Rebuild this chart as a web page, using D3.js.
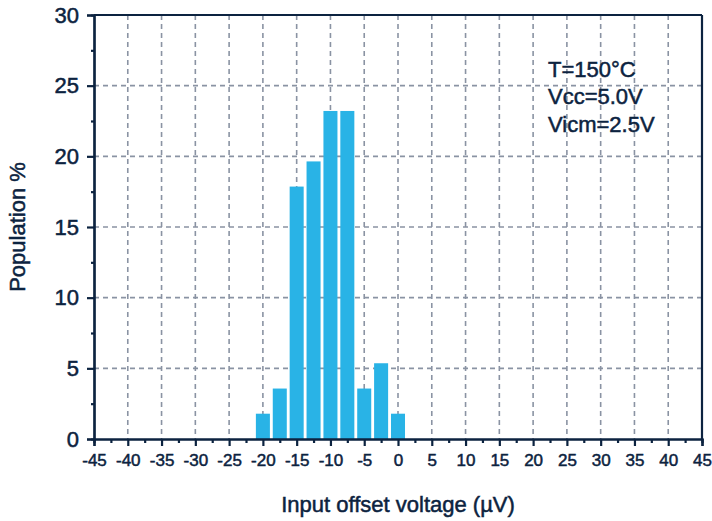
<!DOCTYPE html>
<html><head><meta charset="utf-8">
<script src="https://cdn.jsdelivr.net/npm/d3@7"></script>
<style>
html,body{margin:0;padding:0;background:#fff;}
svg{display:block;}
</style></head>
<body>
<svg id="chart" width="712" height="521"></svg>
<script>
// Data
const binCenters = [-20, -17.5, -15, -12.5, -10, -7.5, -5, -2.5, 0];
const population = [1.79, 3.57, 17.86, 19.64, 23.21, 23.21, 3.57, 5.36, 1.79];
const xTicks = [-45,-40,-35,-30,-25,-20,-15,-10,-5,0,5,10,15,20,25,30,35,40,45];
const yTicks = [0,5,10,15,20,25,30];
const annotation = ["T=150°C", "Vcc=5.0V", "Vicm=2.5V"];
const xTitle = "Input offset voltage (µV)";
const yTitle = "Population %";

const W = 712, H = 521;
const m = {left: 94, top: 15, right: 10, bottom: 82};
const iw = W - m.left - m.right, ih = H - m.top - m.bottom;
const navy = "#0c2340", gridC = "#8a93a3", barC = "#29b3e6";
const font = "'Liberation Sans', Arial, sans-serif";

const x = d3.scaleLinear().domain([-45, 45]).range([0, iw]);
const y = d3.scaleLinear().domain([0, 30]).range([ih, 0]);

const svg = d3.select("#chart");
const g = svg.append("g").attr("transform", `translate(${m.left},${m.top})`);

// grid
g.append("g").selectAll("line").data(xTicks.filter(d => d > -45 && d < 45)).join("line")
  .attr("x1", d => x(d)).attr("x2", d => x(d)).attr("y1", 0).attr("y2", ih)
  .attr("stroke", gridC).attr("stroke-width", 1.6).attr("stroke-dasharray", "5,4");
g.append("g").selectAll("line").data(yTicks.filter(d => d > 0 && d < 30)).join("line")
  .attr("x1", 0).attr("x2", iw).attr("y1", d => y(d)).attr("y2", d => y(d))
  .attr("stroke", gridC).attr("stroke-width", 1.6).attr("stroke-dasharray", "5,4");

// bars
const binW = x(2.5) - x(0);
const bw = binW * 0.83;
g.append("g").selectAll("rect").data(binCenters).join("rect")
  .attr("x", d => x(d) - bw / 2).attr("width", bw)
  .attr("y", (d, i) => y(population[i])).attr("height", (d, i) => y(0) - y(population[i]))
  .attr("fill", barC);

// axes
const xMinor = d3.range(-42.5, 45, 5);
const yMinor = d3.range(2.5, 30, 5);
const xAxis = g.append("g").attr("transform", `translate(0,${ih})`)
  .call(d3.axisBottom(x).tickValues(xTicks).tickSize(7).tickPadding(8).tickFormat(d => String(d)));
const xAxisMinor = g.append("g").attr("transform", `translate(0,${ih})`)
  .call(d3.axisBottom(x).tickValues(xMinor).tickSize(4).tickFormat(""));
const yAxis = g.append("g")
  .call(d3.axisLeft(y).tickValues(yTicks).tickSize(7).tickPadding(8).tickFormat(d => String(d)));
const yAxisMinor = g.append("g")
  .call(d3.axisLeft(y).tickValues(yMinor).tickSize(3).tickFormat(""));

[xAxis, xAxisMinor, yAxis, yAxisMinor].forEach(a => {
  a.select(".domain").attr("stroke", navy).attr("stroke-width", 2.2);
  a.selectAll(".tick line").attr("stroke", navy).attr("stroke-width", 2.2);
});
function heavy(sel) {
  return sel.attr("fill", navy).attr("stroke", navy).attr("stroke-width", 0.5);
}
heavy(xAxis.selectAll(".tick text"))
  .style("font-family", "'Liberation Sans Narrow', 'Arial Narrow', sans-serif")
  .style("font-size", "17px");
heavy(yAxis.selectAll(".tick text"))
  .style("font-family", font).style("font-size", "22px");

// top & right border
g.append("line").attr("x1", 0).attr("x2", iw).attr("y1", 0).attr("y2", 0)
  .attr("stroke", navy).attr("stroke-width", 2.2);
g.append("line").attr("x1", iw).attr("x2", iw).attr("y1", 0).attr("y2", ih)
  .attr("stroke", navy).attr("stroke-width", 2.2);

// annotation
heavy(g.append("g").selectAll("text").data(annotation).join("text"))
  .attr("x", x(22.2)).attr("y", (d, i) => 62 + i * 27.3)
  .style("font-family", font).style("font-size", "22px")
  .text(d => d);

// titles
heavy(svg.append("text")).attr("x", m.left + iw / 2).attr("y", 512)
  .attr("text-anchor", "middle")
  .style("font-family", font).style("font-size", "22px").text(xTitle);
heavy(svg.append("text")).attr("transform", `translate(25,${m.top + ih / 2}) rotate(-90)`)
  .attr("text-anchor", "middle")
  .style("font-family", font).style("font-size", "22px").text(yTitle);
</script>
</body></html>
